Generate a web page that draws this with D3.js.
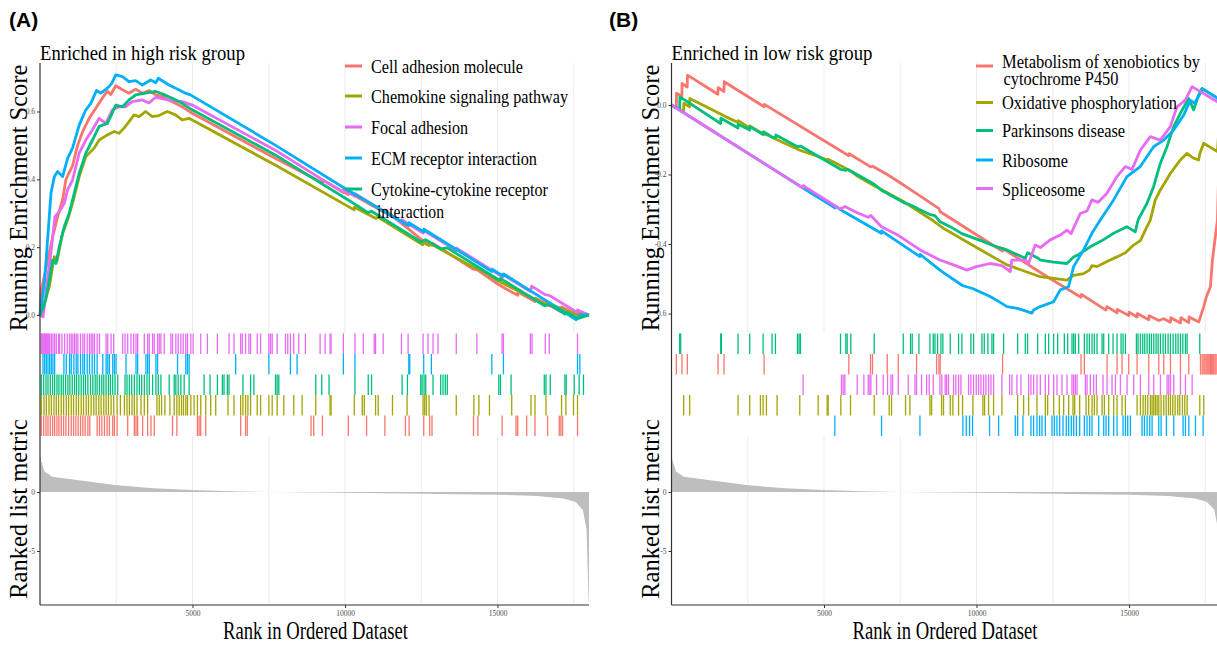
<!DOCTYPE html>
<html>
<head>
<meta charset="utf-8">
<script src="https://cdn.jsdelivr.net/npm/d3@7"></script>
<style>
  body { margin: 0; background: #fff; }
  svg { display: block; font-family: "Liberation Serif", "Times New Roman", serif; }
</style>
</head>
<body>
<svg id="chart"></svg>
<script>
// ---- data ----
const rankTicks = [5000, 10000, 15000];
const rankGrid = [2500, 5000, 7500, 10000, 12500, 15000, 17500];
const esTicksA = [0, 0.2, 0.4, 0.6];
const esTicksB = [0, -0.2, -0.4, -0.6];
const metricTicks = [0, -5];

// ranked list metric, shared by both panels: [rank, metric]
const rankedMetric = [[0, 3.1], [40, 2.6], [150, 1.75], [400, 1.3], [1209, 1.02], [2451, 0.59], [3726, 0.31],
  [4967, 0.17], [6275, 0.06], [7550, 0], [10000, -0.06], [12516, -0.14], [15033, -0.23], [16290, -0.34],
  [17157, -0.54], [17549, -0.82], [17797, -1.5], [17920, -3.2], [17985, -8.96], [18000, -9.3]];

// panel A: enriched in high risk group
const namesA = ["Cell adhesion molecule", "Chemokine signaling pathway", "Focal adhesion",
  "ECM receptor interaction", "Cytokine-cytokine receptor\ninteraction"];
const coloursA = ["#F8766D", "#A3A500", "#E76BF3", "#00B0F6", "#00BF7D"];
const rugOrderA = [2, 3, 4, 1, 0];

const esCellAdhesion = [[0, 0], [33, 0.07], [251, 0.16], [414, 0.23], [578, 0.29], [741, 0.34], [850, 0.40],
  [1067, 0.44], [1231, 0.50], [1394, 0.54], [1612, 0.58], [1830, 0.61], [2048, 0.64], [2211, 0.66], [2320, 0.65],
  [2484, 0.676], [2702, 0.664], [2920, 0.654], [3137, 0.666], [3355, 0.654], [3573, 0.662], [3791, 0.649],
  [4009, 0.644], [4336, 0.629], [4662, 0.614], [4989, 0.595], [7712, 0.462], [9260, 0.39], [9270, 0.398],
  [10109, 0.355], [10120, 0.362], [11300, 0.302], [11310, 0.31], [12527, 0.221], [12860, 0.205],
  [12870, 0.212], [14214, 0.135], [14360, 0.132], [15033, 0.09], [15660, 0.058], [15670, 0.068],
  [16229, 0.04], [16240, 0.05], [17078, 0.01], [17104, 0.024], [17623, 0.0], [17640, 0.01], [18000, 0]];
const esChemokine = [[0, 0], [120, 0.03], [305, 0.084], [468, 0.172], [560, 0.16], [741, 0.241], [904, 0.28],
  [1067, 0.33], [1285, 0.408], [1503, 0.467], [1776, 0.492], [1939, 0.516], [2211, 0.531], [2430, 0.541],
  [2593, 0.536], [2756, 0.551], [2920, 0.57], [3083, 0.59], [3250, 0.585], [3464, 0.60], [3682, 0.585],
  [3900, 0.588], [4173, 0.60], [4444, 0.59], [4662, 0.575], [4880, 0.58], [5098, 0.57], [7712, 0.442],
  [10300, 0.31], [10310, 0.318], [11000, 0.285], [11090, 0.288], [12550, 0.207], [12560, 0.214],
  [12760, 0.205], [12770, 0.212], [14225, 0.14], [14390, 0.136], [15033, 0.1], [16589, 0.03],
  [16600, 0.037], [17213, 0.015], [17500, 0.005], [18000, 0]];
const esFocal = [[0, 0], [100, -0.005], [218, 0.084], [381, 0.201], [490, 0.29], [632, 0.305], [795, 0.329],
  [904, 0.369], [1067, 0.398], [1285, 0.477], [1503, 0.516], [1721, 0.546], [1939, 0.58], [2157, 0.565],
  [2375, 0.605], [2593, 0.614], [2800, 0.614], [3029, 0.629], [3355, 0.634], [3573, 0.625], [3791, 0.642],
  [4118, 0.636], [4336, 0.632], [4662, 0.629], [4989, 0.619], [7712, 0.486], [9940, 0.361], [9950, 0.37],
  [10320, 0.35], [10330, 0.358], [11850, 0.273], [11860, 0.281], [12560, 0.242], [12570, 0.25],
  [13650, 0.19], [13660, 0.197], [15033, 0.12], [15151, 0.113], [15160, 0.12], [16070, 0.07],
  [16122, 0.085], [16560, 0.06], [16700, 0.058], [17600, 0.008], [17626, 0.015], [18000, 0]];
const esECM = [[0, 0], [150, 0.10], [360, 0.359], [470, 0.408], [578, 0.423], [741, 0.408], [904, 0.462],
  [1067, 0.492], [1285, 0.56], [1503, 0.605], [1667, 0.624], [1852, 0.662], [1994, 0.654], [2211, 0.669],
  [2353, 0.683], [2484, 0.708], [2702, 0.703], [2920, 0.688], [3137, 0.691], [3355, 0.678], [3627, 0.693],
  [3800, 0.685], [3878, 0.698], [4227, 0.678], [4552, 0.664], [4771, 0.654], [4934, 0.649], [7712, 0.501],
  [10000, 0.373], [12090, 0.263], [12100, 0.272], [12580, 0.245], [12590, 0.253], [14814, 0.128],
  [14824, 0.135], [15195, 0.114], [15205, 0.121], [17582, -0.014], [17700, 0.0], [18000, 0]];
const esCytokine = [[0, 0], [120, 0.025], [200, 0.05], [305, 0.103], [414, 0.162], [523, 0.152], [632, 0.201],
  [795, 0.26], [958, 0.30], [1122, 0.359], [1285, 0.418], [1503, 0.477], [1721, 0.516], [1939, 0.556],
  [2211, 0.565], [2484, 0.619], [2702, 0.614], [2920, 0.634], [3137, 0.649], [3464, 0.654], [3791, 0.659],
  [4009, 0.652], [4336, 0.639], [4662, 0.624], [4989, 0.605], [7712, 0.472], [10000, 0.345], [10760, 0.302],
  [10870, 0.306], [12483, 0.216], [12646, 0.222], [13136, 0.195], [13354, 0.198], [15033, 0.104],
  [15097, 0.108], [16534, 0.028], [16730, 0.03], [17209, 0.003], [17253, 0.008], [17650, -0.01], [18000, 0]];
const esA = [esCellAdhesion, esChemokine, esFocal, esECM, esCytokine];

const hitsCellAdhesion = [44, 120, 196, 262, 338, 414, 480, 556, 621, 697, 774, 850, 937, 1024, 1100, 1176, 1253,
  1329, 1405, 1481, 1569, 1634, 1873, 1950, 2026, 2113, 2200, 2276, 2385, 2440, 2527, 2875, 3093, 3148, 3202,
  3366, 3529, 3638, 3747, 4345, 4487, 5162, 5217, 5271, 5434, 6578, 6741, 6796, 8887, 8974, 9260, 10109, 10708,
  11307, 11982, 12102, 12581, 12777, 12853, 14214, 14356, 15151, 15608, 15663, 15957, 16229, 16643, 17024,
  17078, 17133, 17623];
const hitsChemokine = [44, 131, 207, 294, 371, 458, 534, 610, 697, 774, 861, 937, 1024, 1100, 1187, 1264, 1351,
  1427, 1514, 1590, 1677, 1764, 1841, 1928, 2004, 2091, 2167, 2244, 2331, 2418, 2527, 2636, 2766, 2853, 2930,
  3017, 3093, 3180, 3311, 3420, 3529, 3834, 3910, 3986, 4095, 4258, 4400, 4487, 4563, 4639, 4705, 4781, 4836,
  4945, 5053, 5162, 5271, 5434, 5598, 5761, 6164, 6360, 6578, 6654, 6741, 6817, 6905, 7123, 7232, 7504, 7613,
  7776, 7994, 8320, 8593, 9042, 9510, 9543, 10305, 10566, 10632, 11002, 11089, 11557, 12036, 12559, 12614,
  12668, 12755, 13648, 14225, 14389, 14737, 15467, 16099, 16229, 16589, 17100, 17242, 17492, 17623];
const hitsFocal = [44, 70, 98, 125, 153, 180, 207, 235, 262, 290, 316, 370, 425, 480, 534, 610, 643, 719, 806,
  893, 970, 1024, 1078, 1133, 1187, 1242, 1329, 1405, 1460, 1547, 1623, 1677, 1732, 1786, 1873, 1950, 2167,
  2222, 2331, 2418, 2712, 2788, 2875, 2984, 3071, 3148, 3202, 3420, 3529, 3583, 3692, 3747, 3855, 3910, 3964,
  4073, 4291, 4345, 4454, 4531, 4618, 4694, 4781, 4836, 4945, 5021, 5271, 5489, 5816, 6197, 6360, 6578, 6632,
  6741, 6850, 6905, 7123, 7232, 7504, 7558, 7613, 7776, 8048, 8124, 8211, 8320, 8484, 8702, 9183, 9347, 9510,
  9543, 9946, 10327, 10599, 10958, 11002, 11252, 11851, 12069, 12559, 12723, 12886, 13049, 13648, 14323,
  15151, 15195, 16077, 16131, 16567, 16697, 17623];
const hitsECM = [98, 153, 207, 262, 316, 371, 425, 480, 784, 861, 970, 1024, 1111, 1187, 1242, 1329, 1405, 1460,
  1547, 1623, 1710, 1786, 1873, 2058, 2167, 2222, 2276, 2385, 2440, 2494, 2821, 3148, 3202, 3474, 3529, 3583,
  3801, 3855, 4509, 4781, 4836, 4890, 6415, 7504, 8211, 8429, 9946, 10327, 12091, 12124, 12581, 12832, 14814,
  15195, 17623, 17700];
const hitsCytokine = [44, 120, 196, 262, 338, 414, 480, 556, 621, 697, 763, 839, 915, 980, 1057, 1133, 1198,
  1274, 1351, 1427, 1492, 1569, 1656, 1732, 1808, 1873, 1950, 2026, 2091, 2167, 2244, 2309, 2385, 2461, 2549,
  2788, 2853, 2930, 3006, 3093, 3180, 3257, 3333, 3420, 3507, 3583, 3692, 3801, 3877, 3964, 4236, 4400, 4454,
  4531, 4618, 4727, 4890, 5380, 5576, 5816, 5979, 6033, 6142, 6197, 6654, 6905, 7014, 7722, 7776, 7831, 9042,
  9238, 9477, 10327, 10762, 10871, 11873, 12047, 12483, 12527, 12592, 12646, 12886, 13136, 13213, 13289,
  13354, 15042, 15097, 15445, 16534, 16589, 16730, 17209, 17253, 17514, 17678, 17819];
const hitsA = [hitsCellAdhesion, hitsChemokine, hitsFocal, hitsECM, hitsCytokine];

// panel B: enriched in low risk group
const namesB = ["Metabolism of xenobiotics by\ncytochrome P450", "Oxidative phosphorylation",
  "Parkinsons disease", "Ribosome", "Spliceosome"];
const coloursB = ["#F8766D", "#A3A500", "#00BF7D", "#00B0F6", "#E76BF3"];
const rugOrderB = [2, 0, 4, 1, 3];

const esMetabolism = [[0, 0], [159, -0.009], [165, 0.034], [340, 0.025], [345, 0.062], [515, 0.052],
  [525, 0.086], [1520, 0.031], [1530, 0.05], [1720, 0.039], [1728, 0.067], [3036, -0.005], [3045, 0.002],
  [5814, -0.146], [5825, -0.14], [6526, -0.178], [6595, -0.176], [7073, -0.2], [7434, -0.22], [8035, -0.255],
  [8770, -0.298], [8810, -0.307], [10697, -0.412], [10856, -0.42], [10865, -0.413], [12330, -0.495],
  [13235, -0.543], [13427, -0.553], [13440, -0.545], [14240, -0.59], [14280, -0.58], [14608, -0.598],
  [14620, -0.588], [14991, -0.606], [15000, -0.596], [15265, -0.61], [15275, -0.6], [15648, -0.618],
  [15660, -0.606], [15976, -0.62], [16140, -0.615], [16359, -0.625], [16370, -0.612], [16687, -0.627],
  [16700, -0.612], [16961, -0.626], [16970, -0.61], [17290, -0.624], [17450, -0.58], [17537, -0.552],
  [17670, -0.523], [17731, -0.45], [17800, -0.40], [17900, -0.331], [18000, 0]];
const esOxidative = [[0, 0], [399, -0.02], [405, 0.005], [596, -0.005], [600, 0.019], [1788, -0.034],
  [2182, -0.05], [2190, -0.045], [2559, -0.066], [2565, -0.06], [2915, -0.078], [3003, -0.082], [3112, -0.085],
  [3462, -0.1], [4085, -0.125], [4206, -0.13], [4808, -0.148], [5101, -0.158], [5137, -0.156], [5552, -0.175],
  [5869, -0.19], [6118, -0.206], [6646, -0.232], [7138, -0.255], [7647, -0.28], [8528, -0.33], [8917, -0.355],
  [9903, -0.405], [10997, -0.46], [12090, -0.494], [12965, -0.504], [13183, -0.49], [13511, -0.485],
  [13700, -0.475], [13790, -0.462], [13948, -0.465], [14277, -0.45], [14604, -0.437], [14882, -0.425],
  [15150, -0.403], [15374, -0.39], [15534, -0.36], [15698, -0.331], [15862, -0.273], [16026, -0.245],
  [16355, -0.197], [16683, -0.158], [16902, -0.139], [17100, -0.152], [17282, -0.158], [17321, -0.14],
  [17447, -0.11], [17900, -0.134], [18000, 0]];
const esParkinsons = [[0, 0], [268, -0.012], [275, 0.024], [301, 0.022], [1610, -0.053], [1620, -0.038],
  [2182, -0.066], [2190, -0.055], [2565, -0.072], [2575, -0.062], [3003, -0.085], [3010, -0.077],
  [3298, -0.092], [3408, -0.094], [3420, -0.086], [4130, -0.12], [4228, -0.118], [5541, -0.185],
  [5716, -0.188], [5760, -0.185], [5880, -0.19], [6646, -0.228], [6882, -0.245], [7598, -0.28], [7893, -0.29],
  [8112, -0.3], [8473, -0.315], [8637, -0.318], [8810, -0.336], [9138, -0.35], [9521, -0.37], [10230, -0.393],
  [10560, -0.405], [10998, -0.417], [11598, -0.441], [11676, -0.425], [12004, -0.44], [12090, -0.446],
  [12530, -0.452], [12965, -0.456], [13183, -0.437], [13350, -0.43], [13730, -0.408], [14116, -0.39],
  [14495, -0.369], [14932, -0.35], [15205, -0.365], [15300, -0.33], [15588, -0.283], [15807, -0.235],
  [16026, -0.168], [16245, -0.12], [16464, -0.062], [16683, -0.024], [16956, 0.019], [17120, -0.014],
  [17284, 0.029], [17393, 0.048], [17900, 0.02], [18000, 0]];
const esRibosome = [[0, 0], [4340, -0.24], [5355, -0.296], [5360, -0.29], [5613, -0.305], [6882, -0.369],
  [6887, -0.362], [8145, -0.436], [8153, -0.43], [8810, -0.476], [9466, -0.515], [9554, -0.52],
  [9871, -0.528], [10429, -0.55], [10725, -0.565], [10998, -0.58], [11348, -0.585], [11818, -0.599],
  [11873, -0.59], [12090, -0.58], [12528, -0.566], [12746, -0.532], [13019, -0.523], [13183, -0.465],
  [13511, -0.417], [13784, -0.369], [14058, -0.331], [14277, -0.302], [14495, -0.273], [14932, -0.206],
  [15370, -0.177], [15807, -0.12], [16135, -0.101], [16464, -0.072], [16792, -0.029], [17011, 0.014],
  [17150, 0.005], [17339, 0.034], [17430, 0.045], [17900, 0.02], [18000, 0]];
const esSpliceosome = [[0, 0], [4316, -0.239], [4320, -0.232], [5484, -0.297], [5574, -0.298], [5683, -0.292],
  [6088, -0.31], [6449, -0.323], [6537, -0.318], [6882, -0.35], [7434, -0.375], [8153, -0.417],
  [8801, -0.446], [9247, -0.46], [9685, -0.475], [9992, -0.465], [10450, -0.456], [10834, -0.462],
  [11106, -0.479], [11160, -0.446], [11600, -0.446], [11706, -0.456], [11925, -0.403], [12092, -0.41],
  [12418, -0.388], [12746, -0.374], [12965, -0.36], [13100, -0.37], [13402, -0.312], [13624, -0.305],
  [13784, -0.273], [13990, -0.28], [14277, -0.254], [14605, -0.206], [14877, -0.177], [15100, -0.185],
  [15370, -0.13], [15698, -0.091], [16026, -0.101], [16355, -0.062], [16573, -0.005], [16847, 0.014],
  [17066, 0.053], [17900, 0.009], [18000, 0]];
const esB = [esMetabolism, esOxidative, esParkinsons, esRibosome, esSpliceosome];

const hitsMetabolism = [159, 344, 520, 1526, 1723, 3036, 5814, 6526, 6591, 7073, 7434, 8035, 8692, 8768, 8810,
  10856, 13427, 13536, 14280, 14608, 14772, 14991, 15265, 15648, 15976, 16140, 16359, 16687, 16961, 17343,
  17398, 17452, 17490, 17529, 17562, 17595, 17630, 17671, 17700, 17726, 17755, 17781, 17820, 17857];
const hitsOxidative = [399, 596, 2182, 2565, 2915, 3003, 3112, 3462, 4206, 4808, 5104, 5137, 5552, 5869, 6646,
  7138, 7215, 7674, 7817, 8473, 8528, 8856, 8919, 9138, 9226, 9412, 9543, 9882, 10210, 10265, 10396, 10560,
  10834, 11348, 11545, 11709, 11983, 12256, 12333, 12530, 12716, 12858, 13022, 13164, 13219, 13383, 13591,
  13679, 13788, 13864, 13952, 14116, 14193, 14335, 14499, 14608, 14772, 14882, 15265, 15374, 15462, 15538,
  15615, 15702, 15757, 15812, 15866, 15921, 15976, 16052, 16140, 16217, 16293, 16359, 16435, 16512, 16599,
  16665, 16752, 16829, 16906, 17321, 17452];
const hitsParkinsons = [268, 301, 1614, 1635, 2182, 2565, 3003, 3298, 3408, 4130, 4184, 4228, 5541, 5716, 5760,
  5880, 6646, 7598, 7838, 7893, 8112, 8473, 8582, 8637, 8725, 8834, 8898, 9138, 9412, 9521, 9816, 9904,
  10178, 10254, 10374, 10506, 10560, 10889, 11348, 11600, 11676, 12004, 12256, 12366, 12530, 12661, 12880,
  12989, 13131, 13186, 13241, 13350, 13536, 13624, 13700, 13788, 13864, 13952, 14116, 14171, 14335, 14477,
  14608, 14740, 14805, 14882, 15243, 15297, 15374, 15450, 15516, 15593, 15669, 15735, 15812, 15888, 15954,
  16030, 16118, 16195, 16282, 16359, 16446, 16534, 16610, 16687, 16764, 16851, 16906, 17321];
const hitsRibosome = [5355, 6887, 8145, 9554, 9663, 9773, 9871, 10429, 10725, 11272, 11348, 11523, 11786,
  11873, 11983, 12070, 12147, 12256, 12475, 12551, 12639, 12727, 12836, 12945, 13022, 13109, 13186, 13274,
  13383, 13536, 13624, 13711, 13788, 14007, 14171, 14247, 14335, 14499, 14608, 14805, 14882, 14958, 15046,
  15429, 15505, 15593, 15680, 15757, 15976, 16052, 16227, 16468, 16774, 16851, 16961, 17179, 17430];
const hitsSpliceosome = [4316, 5574, 5628, 5683, 6088, 6307, 6449, 6504, 6537, 6723, 6942, 7084, 7194, 7249,
  7434, 7762, 7981, 8035, 8199, 8363, 8451, 8582, 8801, 8865, 8974, 9020, 9084, 9248, 9324, 9412, 9488, 9740,
  9816, 9904, 9992, 10068, 10145, 10232, 10309, 10396, 10473, 10560, 10834, 11086, 11162, 11326, 11457,
  11709, 11786, 11873, 11983, 12092, 12256, 12366, 12530, 12639, 12803, 12967, 13131, 13186, 13241, 13296,
  13569, 13624, 13733, 13842, 13930, 14149, 14280, 14444, 14554, 14718, 14936, 15155, 15374, 15648, 15812,
  16030, 16249, 16304, 16359, 16468, 16687, 16851, 17070];
const hitsB = [hitsMetabolism, hitsOxidative, hitsParkinsons, hitsRibosome, hitsSpliceosome];

// ---- drawing ----
const width = 1217, height = 646;
const svg = d3.select("#chart").attr("width", width).attr("height", height);
svg.append("rect").attr("width", width).attr("height", height).attr("fill", "#fff");

const esTop = 63, esBottom = 333, rugTop = 333.5, rugRow = 20.5, rankTop = 436, rankBottom = 605;
const gridColour = "#ebebeb", axisColour = "#333", tickText = "#4d4d4d";

// squeeze text horizontally to the width it has in the figure
function squeeze(sel, w) {
  sel.attr("textLength", w).attr("lengthAdjust", "spacingAndGlyphs");
}

function drawPanel(p) {
  const g = svg.append("g");
  const x = d3.scaleLinear().domain([0, 18000]).range([p.left, p.left + 549]);
  const yEs = d3.scaleLinear().domain(p.esDomain).range([esBottom, esTop]);
  const yRank = d3.scaleLinear().domain([-9.58, 4.75]).range([rankBottom, rankTop]);

  // grid (vertical only, in score and ranked panels)
  [[esTop, esBottom], [rankTop, rankBottom]].forEach(([t, b]) => {
    g.append("g").selectAll("line").data(rankGrid).join("line")
      .attr("x1", d => x(d)).attr("x2", d => x(d))
      .attr("y1", t).attr("y2", b)
      .attr("stroke", gridColour).attr("stroke-width", 1);
  });

  // running enrichment score lines
  const line = d3.line().x(d => x(d[0])).y(d => yEs(d[1]));
  p.es.forEach((s, i) => {
    g.append("path").datum(s)
      .attr("d", line)
      .attr("fill", "none")
      .attr("stroke", p.colours[i])
      .attr("stroke-width", 2.8)
      .attr("stroke-linejoin", "round");
  });

  // rug of hits
  p.rugOrder.forEach((k, row) => {
    g.append("g").selectAll("line").data(p.hits[k]).join("line")
      .attr("x1", d => x(d)).attr("x2", d => x(d))
      .attr("y1", rugTop + row * rugRow).attr("y2", rugTop + (row + 1) * rugRow)
      .attr("stroke", p.colours[k]).attr("stroke-width", 1.3);
  });

  // ranked list metric
  const area = d3.area().x(d => x(d[0])).y0(yRank(0)).y1(d => yRank(d[1]));
  g.append("path").datum(rankedMetric).attr("d", area).attr("fill", "#bebebe");

  // axis lines
  g.append("line").attr("x1", p.left).attr("x2", p.left).attr("y1", esTop).attr("y2", rankBottom)
    .attr("stroke", axisColour).attr("stroke-width", 1.2);
  g.append("line").attr("x1", p.left).attr("x2", p.left + 549).attr("y1", rankBottom).attr("y2", rankBottom)
    .attr("stroke", axisColour).attr("stroke-width", 1.2);

  const styleAxis = (a) => {
    a.select(".domain").remove();
    a.selectAll(".tick line").attr("stroke", axisColour);
    a.selectAll(".tick text").attr("fill", tickText)
      .style("font-family", "'Liberation Serif', serif").style("font-size", "7.5px");
  };
  g.append("g").attr("transform", `translate(${p.left},0)`)
    .call(d3.axisLeft(yEs).tickValues(p.esTicks).tickSize(3).tickPadding(2).tickFormat(d => d.toFixed(1)))
    .call(styleAxis);
  g.append("g").attr("transform", `translate(${p.left},0)`)
    .call(d3.axisLeft(yRank).tickValues(metricTicks).tickSize(3).tickPadding(2).tickFormat(d => String(d)))
    .call(styleAxis);
  g.append("g").attr("transform", `translate(0,${rankBottom})`)
    .call(d3.axisBottom(x).tickValues(rankTicks).tickSize(3).tickPadding(3).tickFormat(d => String(d)))
    .call(styleAxis);

  // texts
  svg.append("text").attr("x", p.tagX).attr("y", 27)
    .style("font-family", "'Liberation Sans', Arial, sans-serif").style("font-weight", "bold")
    .style("font-size", "21px").text(p.tag);
  svg.append("text").attr("x", p.left).attr("y", 60).style("font-size", "20px")
    .text(p.title).call(squeeze, p.titleW);
  svg.append("text").attr("transform", `translate(${p.left - 13},198) rotate(-90)`)
    .attr("text-anchor", "middle").style("font-size", "24.5px").text("Running Enrichment Score");
  svg.append("text").attr("transform", `translate(${p.left - 13},509) rotate(-90)`)
    .attr("text-anchor", "middle").style("font-size", "24.5px").text("Ranked list metric");
  svg.append("text").attr("x", p.left + p.xTitleDx).attr("y", 639).style("font-size", "25px")
    .text("Rank in Ordered Dataset").call(squeeze, 185);

  // legend
  const leg = svg.append("g");
  p.names.forEach((name, i) => {
    const ky = p.legendY[i];
    leg.append("line").attr("x1", p.keyX).attr("x2", p.keyX + 17).attr("y1", ky).attr("y2", ky)
      .attr("stroke", p.colours[i]).attr("stroke-width", 3);
    const lines = name.split("\n");
    lines.forEach((ln, j) => {
      leg.append("text")
        .attr("x", p.keyX + 26 + (j > 0 ? p.wrapDx : 0))
        .attr("y", ky + p.baseDy[i] + j * p.lineGap)
        .style("font-size", "19px").text(ln)
        .call(squeeze, p.legendW[i][j]);
    });
  });
}

drawPanel({
  left: 40, tag: "(A)", tagX: 9, title: "Enriched in high risk group", titleW: 205,
  esDomain: [-0.053, 0.743], esTicks: esTicksA, es: esA, hits: hitsA, colours: coloursA,
  rugOrder: rugOrderA, names: namesA, keyX: 345, wrapDx: 6, xTitleDx: 183, lineGap: 22,
  legendY: [66, 96, 127, 158, 189], baseDy: [7, 7, 6.5, 6.5, 7],
  legendW: [[152], [197], [97], [166], [177, 67]]
});

drawPanel({
  left: 671.5, tag: "(B)", tagX: 609, title: "Enriched in low risk group", titleW: 201,
  esDomain: [-0.656, 0.121], esTicks: esTicksB, es: esB, hits: hitsB, colours: coloursB,
  rugOrder: rugOrderB, names: namesB, keyX: 976, wrapDx: 1.5, xTitleDx: 181, lineGap: 17,
  legendY: [66, 102.5, 130.5, 160, 188.5], baseDy: [2, 6, 6, 6.5, 7.5],
  legendW: [[198, 115], [175], [123], [66], [83]]
});
</script>
</body>
</html>
